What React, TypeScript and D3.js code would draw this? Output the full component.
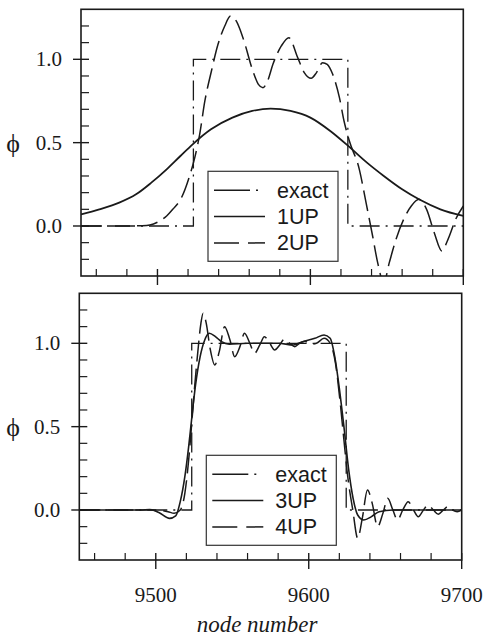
import React from 'react';
import * as d3 from 'd3';

// axis setup
const xDomain: [number, number] = [9450, 9700];
const yDomain: [number, number] = [-0.3, 1.3];
const xMajor = [9500, 9600, 9700];
const xMinor = [9460, 9480, 9520, 9540, 9560, 9580, 9620, 9640, 9660, 9680];
const yMajor = [0, 0.5, 1.0];
const yMinor = [-0.2, -0.1, 0.1, 0.2, 0.3, 0.4, 0.6, 0.7, 0.8, 0.9, 1.1, 1.2];
const yLabels = ['0.0', '0.5', '1.0'];

type Pt = [number, number];

// exact step profile (both panels)
const exact: Pt[] = [[9450, 0], [9523.5, 0], [9523.5, 1], [9624.5, 1], [9624.5, 0], [9700, 0]];

// top panel
const up1: Pt[] = [
    [9450, 0.07], [9462, 0.1], [9475, 0.14], [9486, 0.19], [9496, 0.26], [9506, 0.34], [9515, 0.42],
    [9523, 0.49], [9535, 0.58], [9549, 0.65], [9562, 0.69], [9574, 0.704], [9587, 0.69], [9600, 0.65],
    [9613, 0.57], [9626, 0.47], [9637, 0.38], [9648, 0.3], [9660, 0.22], [9671, 0.16], [9685, 0.1], [9700, 0.06]
];
const up2: Pt[] = [
    [9450, 0], [9480, 0], [9490, 0.002], [9495, 0.006], [9501.5, 0.03], [9506, 0.06], [9510, 0.1],
    [9515.7, 0.17], [9521, 0.3], [9524.4, 0.41], [9527.6, 0.55], [9531, 0.75], [9535.3, 0.93],
    [9539.6, 1.09], [9544, 1.2], [9547.8, 1.26], [9551.5, 1.23], [9555.9, 1.13], [9562.4, 0.93],
    [9566, 0.85], [9569, 0.83], [9572, 0.87], [9575.5, 0.97], [9581, 1.08], [9585.9, 1.13],
    [9591.7, 1.01], [9596, 0.92], [9600.5, 0.886], [9604, 0.92], [9608, 0.98], [9611, 0.97],
    [9614.6, 0.91], [9619, 0.77], [9622, 0.63], [9625.5, 0.51], [9632, 0.34], [9636.4, 0.14],
    [9640.7, -0.06], [9644, -0.22], [9648, -0.34], [9651.6, -0.22], [9656, -0.08], [9661, 0.04],
    [9666, 0.12], [9671, 0.16], [9676, 0.1], [9681, -0.04], [9686, -0.15], [9690, -0.08],
    [9695, 0.04], [9700, 0.12]
];

// bottom panel
const up3: Pt[] = [
    [9450, 0], [9490, 0], [9496, 0.003], [9502, -0.015], [9509, -0.05], [9513, -0.035], [9516, 0.05],
    [9519, 0.2], [9521.5, 0.38], [9523.5, 0.55], [9526, 0.75], [9529, 0.92], [9532, 1.02], [9535, 1.06],
    [9539, 1.04], [9543, 1.01], [9548, 0.995], [9560, 1.0], [9580, 1.0], [9590, 0.99], [9596, 1.01],
    [9604, 1.03], [9610, 1.05], [9614, 1.03], [9617, 0.92], [9620, 0.73], [9623, 0.5], [9626, 0.25],
    [9629, 0.07], [9632, -0.03], [9636, -0.06], [9641, -0.04], [9646, -0.01], [9655, 0], [9700, 0]
];
const up4: Pt[] = [
    [9450, 0], [9500, 0], [9508, -0.01], [9512, -0.02], [9516, 0.0], [9519, 0.1], [9521.5, 0.3],
    [9523.5, 0.52], [9525.5, 0.75], [9527.5, 0.95], [9529.5, 1.12], [9531, 1.18], [9533, 1.12],
    [9535.5, 0.97], [9538.6, 0.87], [9541.5, 0.95], [9545, 1.1], [9548.5, 1.02], [9551.6, 0.92],
    [9555, 0.98], [9558, 1.06], [9561.5, 1.0], [9564.5, 0.94], [9568, 0.99], [9571, 1.04],
    [9574.5, 1.0], [9577.7, 0.96], [9581, 0.99], [9584, 1.025], [9587.5, 1.0], [9590.9, 0.98],
    [9594, 1.0], [9597.5, 1.012], [9601, 0.995], [9605, 1.0], [9610, 1.03], [9614, 1.0],
    [9617.5, 0.88], [9620.5, 0.65], [9623, 0.42], [9625.5, 0.2], [9628.8, 0.0], [9632, -0.17],
    [9635, -0.05], [9638.4, 0.12], [9641.5, 0.04], [9645, -0.1], [9648.5, -0.02], [9651.6, 0.07],
    [9655, 0.0], [9658, -0.06], [9661.5, 0.0], [9665, 0.05], [9668.5, 0.0], [9671.6, -0.04],
    [9675, 0.0], [9678, 0.03], [9681.5, 0.0], [9684.7, -0.025], [9688, 0.0], [9691, 0.02],
    [9694, 0.0], [9697, -0.01], [9700, 0]
];

const INK = '#1a1a1a';
const SERIF = "'Times New Roman', 'Liberation Serif', Times, serif";
const SANS = "Arial, 'Liberation Sans', Helvetica, sans-serif";

type Series = { name: string; data: Pt[]; dash?: string; legendDash?: string; step?: boolean; width?: number };

function Panel({ id, left, right, top, bottom, series, xLabels }: {
    id: string; left: number; right: number; top: number; bottom: number; series: Series[]; xLabels?: boolean;
}) {
    const x = d3.scaleLinear().domain(xDomain).range([left, right]);
    const y = d3.scaleLinear().domain(yDomain).range([bottom, top]);
    const smooth = d3.line<Pt>().x(d => x(d[0])).y(d => y(d[1])).curve(d3.curveMonotoneX);
    const straight = d3.line<Pt>().x(d => x(d[0])).y(d => y(d[1]));

    // legend box, relative to plot corner
    const bx = left + 127;
    const by = top + 162;

    return (
        <g>
            <defs>
                <clipPath id={id}>
                    <rect x={left} y={top} width={right - left} height={bottom - top} />
                </clipPath>
            </defs>

            {/* curves */}
            <g clipPath={`url(#${id})`}>
                {series.map(s => (
                    <path
                        key={s.name}
                        d={(s.step ? straight : smooth)(s.data) || ''}
                        fill="none"
                        stroke={INK}
                        strokeWidth={s.width || 1.5}
                        strokeDasharray={s.dash}
                    />
                ))}
            </g>

            {/* frame */}
            <rect x={left} y={top} width={right - left} height={bottom - top} fill="none" stroke={INK} strokeWidth={1.6} />

            {/* y ticks */}
            {yMinor.map(t => (
                <line key={'ym' + t} x1={left} x2={left + 8} y1={y(t)} y2={y(t)} stroke={INK} strokeWidth={1.2} />
            ))}
            {yMajor.map((t, i) => (
                <g key={'yM' + t}>
                    <line x1={left - 8} x2={left + 8} y1={y(t)} y2={y(t)} stroke={INK} strokeWidth={1.4} />
                    <text x={left - 19} y={y(t)} dy="0.34em" textAnchor="end" style={{ fontFamily: SERIF }} fontSize={21} fill={INK}>
                        {yLabels[i]}
                    </text>
                </g>
            ))}
            <text x={13} y={y(0.5)} dy="0.36em" textAnchor="middle" style={{ fontFamily: SERIF }} fontSize={26} fill={INK}>ϕ</text>

            {/* x ticks */}
            {xMinor.map(t => (
                <line key={'xm' + t} x1={x(t)} x2={x(t)} y1={bottom} y2={bottom - 7} stroke={INK} strokeWidth={1.2} />
            ))}
            {xMajor.map(t => (
                <line key={'xM' + t} x1={x(t)} x2={x(t)} y1={bottom - 7} y2={bottom + 9} stroke={INK} strokeWidth={1.4} />
            ))}
            {xLabels && xMajor.map(t => (
                <text key={'xl' + t} x={x(t)} y={bottom + 42} textAnchor="middle" style={{ fontFamily: SERIF }} fontSize={21} fill={INK}>
                    {t}
                </text>
            ))}

            {/* legend */}
            <rect x={bx} y={by} width={130} height={90} fill="#fff" stroke="#333" strokeWidth={1.2} />
            {series.map((s, i) => (
                <g key={'lg' + s.name}>
                    <line
                        x1={bx + 6} x2={bx + 57}
                        y1={by + 19 + i * 26.3} y2={by + 19 + i * 26.3}
                        stroke={INK} strokeWidth={1.5}
                        strokeDasharray={s.legendDash || s.dash}
                    />
                    <text x={bx + 69} y={by + 26.5 + i * 26.3} style={{ fontFamily: SANS }} fontSize={21.5} fill={INK}>{s.name}</text>
                </g>
            ))}
        </g>
    );
}

export default function App() {
    const topSeries: Series[] = [
        { name: 'exact', data: exact, dash: '20,6,2,6', legendDash: '36,6,2,20', step: true, width: 1.3 },
        { name: '1UP', data: up1, width: 1.8 },
        { name: '2UP', data: up2, dash: '21,7', legendDash: '25,9' }
    ];
    const bottomSeries: Series[] = [
        { name: 'exact', data: exact, dash: '20,6,2,6', legendDash: '36,6,2,20', step: true, width: 1.3 },
        { name: '3UP', data: up3, width: 1.6 },
        { name: '4UP', data: up4, dash: '21,7', legendDash: '25,9' }
    ];

    return (
        <div style={{ position: 'absolute', left: 0, top: 0, background: '#fff' }}>
            <svg width={483} height={636} style={{ display: 'block' }}>
                <rect width={483} height={636} fill="#fff" />
                <Panel id="clipTop" left={81} right={463.3} top={9.3} bottom={276} series={topSeries} />
                <Panel id="clipBottom" left={79.3} right={461.7} top={293.3} bottom={560} series={bottomSeries} xLabels />
                <text x={257} y={632} textAnchor="middle" style={{ fontFamily: SERIF, fontStyle: 'italic' }} fontSize={23} fill={INK}>
                    node number
                </text>
            </svg>
        </div>
    );
}
